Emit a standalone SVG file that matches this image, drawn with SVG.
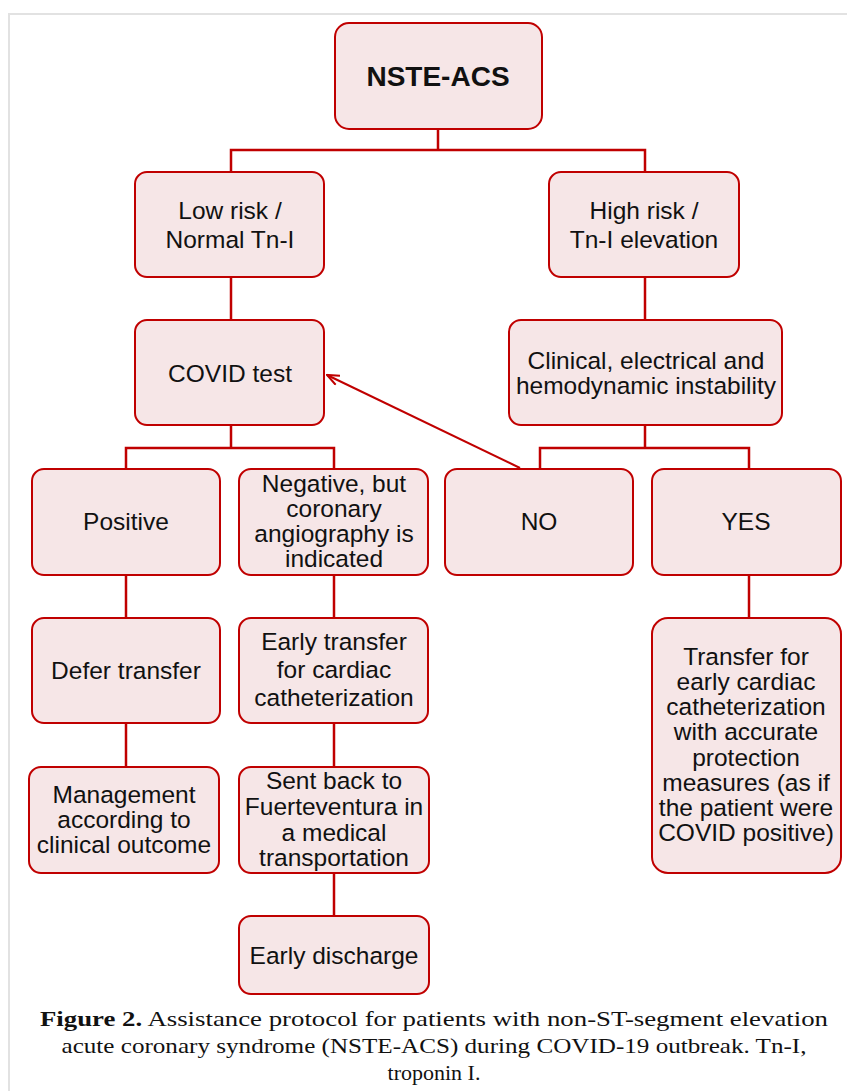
<svg xmlns="http://www.w3.org/2000/svg" width="847" height="1091" viewBox="0 0 847 1091">
<style>
.box{fill:#f6e6e7;stroke:#c00000;stroke-width:2}
.t{font-family:"Liberation Sans",Arial,sans-serif;font-size:24.5px;fill:#111;text-anchor:middle}
.c{fill:none;stroke:#c00000;stroke-width:2.5}
.cap{font-family:"Liberation Serif","Times New Roman",serif;font-size:22px;fill:#111;text-anchor:middle}
</style>
<defs>
<marker id="ah" markerWidth="14" markerHeight="12" refX="13" refY="6" orient="auto" markerUnits="userSpaceOnUse">
<path d="M1,1 L13,6 L1,11" fill="none" stroke="#c00000" stroke-width="2"/>
</marker>
</defs>
<rect x="0" y="0" width="847" height="1091" fill="#fff"/>
<path d="M9,1091 V14 H847" fill="none" stroke="#e2e2e2" stroke-width="2"/>
<g id="connectors">
<path class="c" d="M438,129 V150 M231,172 V150 H645 V172"/>
<path class="c" d="M231,277 V320"/>
<path class="c" d="M645,277 V320"/>
<path class="c" d="M231,425 V448 M126,469 V448 H334 V469"/>
<path class="c" d="M645,425 V448 M540,469 V448 H749 V469"/>
<path class="c" d="M126,575 V618"/>
<path class="c" d="M126,723 V767"/>
<path class="c" d="M334,575 V618"/>
<path class="c" d="M334,723 V767"/>
<path class="c" d="M334,873 V916"/>
<path class="c" d="M749,575 V618"/>
<path d="M520,468 L327,375" fill="none" stroke="#c00000" stroke-width="2" marker-end="url(#ah)"/>
</g>
<g id="n-nste">
<rect class="box" x="335" y="23" width="207" height="106" rx="14"/>
<text class="t" x="438" y="86" style="font-weight:bold;font-size:28px">NSTE-ACS</text>
</g>
<g id="n-low">
<rect class="box" x="135" y="172" width="189" height="105" rx="12"/>
<text class="t" x="230" y="219">Low risk /</text>
<text class="t" x="230" y="248">Normal Tn-I</text>
</g>
<g id="n-high">
<rect class="box" x="549" y="172" width="190" height="105" rx="12"/>
<text class="t" x="644" y="219">High risk /</text>
<text class="t" x="644" y="248">Tn-I elevation</text>
</g>
<g id="n-covid">
<rect class="box" x="135" y="320" width="189" height="105" rx="12"/>
<text class="t" x="230" y="382">COVID test</text>
</g>
<g id="n-clinical">
<rect class="box" x="509" y="320" width="273" height="105" rx="12"/>
<text class="t" x="646" y="369">Clinical, electrical and</text>
<text class="t" x="646" y="394">hemodynamic instability</text>
</g>
<g id="n-positive">
<rect class="box" x="32" y="469" width="188" height="106" rx="12"/>
<text class="t" x="126" y="530">Positive</text>
</g>
<g id="n-negative">
<rect class="box" x="239" y="469" width="189" height="106" rx="12"/>
<text class="t" x="334" y="492">Negative, but</text>
<text class="t" x="334" y="517">coronary</text>
<text class="t" x="334" y="542">angiography is</text>
<text class="t" x="334" y="567">indicated</text>
</g>
<g id="n-no">
<rect class="box" x="445" y="469" width="188" height="106" rx="12"/>
<text class="t" x="539" y="530">NO</text>
</g>
<g id="n-yes">
<rect class="box" x="652" y="469" width="189" height="106" rx="12"/>
<text class="t" x="746" y="530">YES</text>
</g>
<g id="n-defer">
<rect class="box" x="32" y="618" width="188" height="105" rx="12"/>
<text class="t" x="126" y="679">Defer transfer</text>
</g>
<g id="n-early-transfer">
<rect class="box" x="239" y="618" width="189" height="105" rx="12"/>
<text class="t" x="334" y="650">Early transfer</text>
<text class="t" x="334" y="678">for cardiac</text>
<text class="t" x="334" y="706">catheterization</text>
</g>
<g id="n-transfer-protect">
<rect class="box" x="652" y="618" width="189" height="255" rx="16"/>
<text class="t" x="746" y="665">Transfer for</text>
<text class="t" x="746" y="690">early cardiac</text>
<text class="t" x="746" y="715">catheterization</text>
<text class="t" x="746" y="740">with accurate</text>
<text class="t" x="746" y="766">protection</text>
<text class="t" x="746" y="791">measures (as if</text>
<text class="t" x="746" y="816">the patient were</text>
<text class="t" x="746" y="841">COVID positive)</text>
</g>
<g id="n-management">
<rect class="box" x="29" y="767" width="190" height="106" rx="12"/>
<text class="t" x="124" y="803">Management</text>
<text class="t" x="124" y="828">according to</text>
<text class="t" x="124" y="853">clinical outcome</text>
</g>
<g id="n-sent-back">
<rect class="box" x="239" y="767" width="190" height="106" rx="12"/>
<text class="t" x="334" y="789">Sent back to</text>
<text class="t" x="334" y="815">Fuerteventura in</text>
<text class="t" x="334" y="841">a medical</text>
<text class="t" x="334" y="866">transportation</text>
</g>
<g id="n-discharge">
<rect class="box" x="239" y="916" width="190" height="78" rx="12"/>
<text class="t" x="334" y="964">Early discharge</text>
</g>
<g id="caption">
<text class="cap" x="434" y="1026" textLength="788" lengthAdjust="spacingAndGlyphs"><tspan font-weight="bold">Figure 2.</tspan> Assistance protocol for patients with non-ST-segment elevation</text>
<text class="cap" x="434" y="1053" textLength="745" lengthAdjust="spacingAndGlyphs">acute coronary syndrome (NSTE-ACS) during COVID-19 outbreak. Tn-I,</text>
<text class="cap" x="434" y="1080">troponin I.</text>
</g>
</svg>
